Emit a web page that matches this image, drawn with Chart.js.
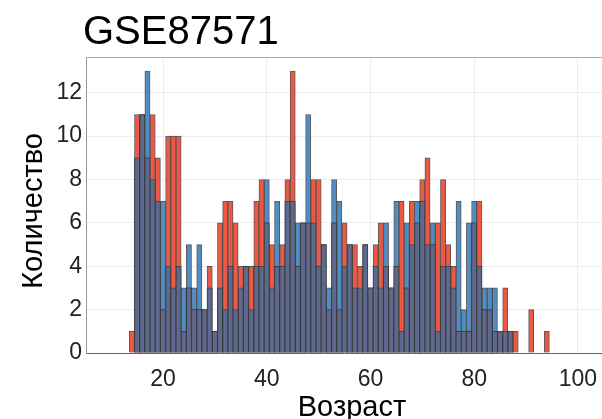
<!DOCTYPE html>
<html>
<head>
<meta charset="utf-8">
<title>GSE87571</title>
<script src="https://cdn.jsdelivr.net/npm/chart.js@4.4.1/dist/chart.umd.min.js"></script>
<style>
  html, body { margin: 0; padding: 0; background: #fff; }
  #wrap { width: 602px; height: 419px; }
</style>
</head>
<body>
<div id="wrap"><canvas id="ageChart" width="602" height="419"></canvas></div>
<script>
// Age bins (1 year wide, centred on the integer)
const ages = [];
for (let a = 14; a <= 94; a++) ages.push(a);

// Counts per age
const redCounts = [
  1, 11, 11, 9, 11, 9, 2, 10, 10, 10,   // 14-23
  1, 3, 2, 2, 2, 4, 1, 6, 7, 7,         // 24-33
  6, 4, 4, 4, 7, 8, 6, 5, 4, 5,         // 34-43
  8, 13, 4, 6, 6, 8, 8, 5, 2, 6,        // 44-53
  2, 6, 5, 5, 4, 5, 3, 5, 6, 4,         // 54-63
  3, 4, 7, 3, 7, 6, 8, 9, 5, 6,         // 64-73
  8, 5, 4, 1, 1, 1, 6, 7, 2, 2,         // 74-83
  1, 1, 3, 1, 1, 0, 0, 2, 0, 0,         // 84-93
  1                                     // 94
];
const blueCounts = [
  0, 9, 11, 13, 8, 7, 7, 4, 3, 4,       // 14-23
  3, 5, 3, 5, 2, 3, 1, 3, 2, 4,         // 24-33
  2, 3, 4, 2, 4, 4, 8, 3, 7, 4,         // 34-43
  7, 7, 6, 6, 11, 6, 4, 5, 3, 8,        // 44-53
  7, 4, 5, 3, 3, 5, 3, 4, 3, 6,         // 54-63
  3, 7, 1, 6, 5, 7, 7, 5, 6, 1,         // 64-73
  4, 4, 3, 7, 2, 6, 7, 4, 3, 3,         // 74-83
  3, 1, 1, 1, 0, 0, 0, 0, 0, 0,         // 84-93
  0                                     // 94
];

const yTicks = [0, 2, 4, 6, 8, 10, 12];
const xTicks = [20, 40, 60, 80, 100];

const FONT = '"Liberation Sans", Arial, sans-serif';

// zero counts are left out so no empty outline is drawn
function toPoints(values) {
  return ages.map((a, i) => ({ x: a, y: values[i] > 0 ? values[i] : null }));
}
const overlap = redCounts.map((r, i) => Math.min(r, blueCounts[i]));

// frame top line and the text titles
const titlesPlugin = {
  id: "titles",
  afterDraw(chart) {
    const { ctx, chartArea } = chart;
    ctx.save();
    ctx.strokeStyle = "#aaaaaa";
    ctx.lineWidth = 1;
    ctx.beginPath();
    ctx.moveTo(chartArea.left, chartArea.top + 0.5);
    ctx.lineTo(602, chartArea.top + 0.5);
    ctx.stroke();

    ctx.fillStyle = "#000";
    ctx.textBaseline = "alphabetic";
    ctx.textAlign = "left";
    ctx.font = "40px " + FONT;
    ctx.fillText("GSE87571", 83, 44);

    ctx.textAlign = "center";
    ctx.font = "29px " + FONT;
    ctx.fillText("Возраст", 352, 416);

    ctx.translate(42, 211);
    ctx.rotate(-Math.PI / 2);
    ctx.fillText("Количество", 0, 0);
    ctx.restore();
  }
};

const barStyle = {
  borderColor: "rgba(60, 60, 60, 0.85)",
  borderWidth: 1,
  barPercentage: 1,
  categoryPercentage: 1,
  grouped: false
};

new Chart(document.getElementById("ageChart"), {
  type: "bar",
  data: {
    datasets: [
      { label: "both", data: toPoints(overlap), backgroundColor: "#5d6a90", order: 0, ...barStyle },
      { label: "red", data: toPoints(redCounts), backgroundColor: "#ec5843", order: 1, ...barStyle },
      { label: "blue", data: toPoints(blueCounts), backgroundColor: "#4f8ec5", order: 2, ...barStyle }
    ]
  },
  options: {
    responsive: false,
    devicePixelRatio: 1,
    animation: false,
    layout: { padding: { top: 57, right: 0, bottom: 0, left: 0 } },
    plugins: {
      legend: { display: false },
      title: { display: false },
      tooltip: { enabled: false }
    },
    scales: {
      x: {
        type: "linear",
        min: 5.15,
        max: 104.65,
        offset: false,
        afterFit: (scale) => {
          scale.height = 66;
          scale.paddingLeft = 0;
          scale.paddingRight = 0;
        },
        afterBuildTicks: (scale) => { scale.ticks = xTicks.map(v => ({ value: v })); },
        grid: { color: "#ececec", drawTicks: false, offset: false },
        border: { color: "#666666", width: 1 },
        ticks: { color: "#222", padding: 13, font: { family: FONT, size: 23 }, maxRotation: 0 }
      },
      y: {
        min: 0,
        max: 13.65,
        afterFit: (scale) => {
          scale.width = 86;
          scale.paddingTop = 0;
          scale.paddingBottom = 0;
        },
        afterBuildTicks: (scale) => { scale.ticks = yTicks.map(v => ({ value: v })); },
        grid: { color: "#ececec", drawTicks: false },
        border: { color: "#999999", width: 1 },
        ticks: { color: "#222", padding: 4, font: { family: FONT, size: 23 } }
      }
    }
  },
  plugins: [titlesPlugin]
});
</script>
</body>
</html>
